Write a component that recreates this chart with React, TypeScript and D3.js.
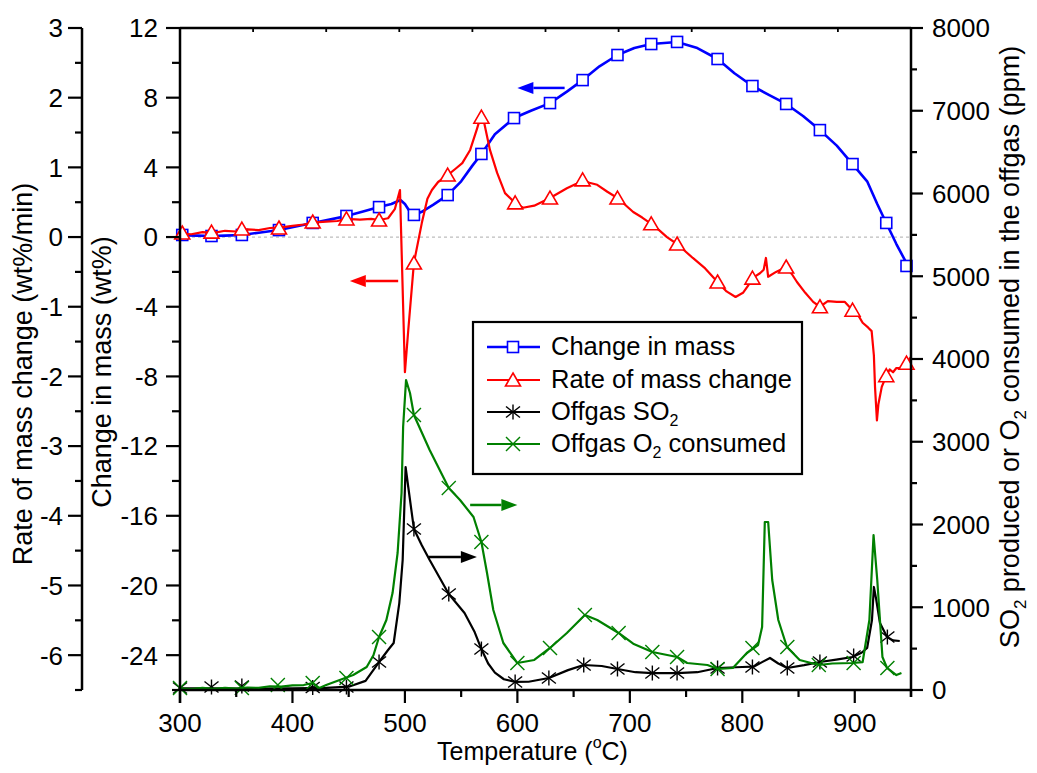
import React from 'react';
import * as d3 from 'd3';

// ---- axis ticks ----
const tempTicks = [300, 400, 500, 600, 700, 800, 900];
const tempMinor = [350, 450, 550, 650, 750, 850, 950];
const massTicks = [12, 8, 4, 0, -4, -8, -12, -16, -20, -24];
const massMinor = [10, 6, 2, -2, -6, -10, -14, -18, -22, -26];
const rateTicks = [3, 2, 1, 0, -1, -2, -3, -4, -5, -6];
const rateMinor = [2.5, 1.5, 0.5, -0.5, -1.5, -2.5, -3.5, -4.5, -5.5, -6.5];
const gasTicks = [0, 1000, 2000, 3000, 4000, 5000, 6000, 7000, 8000];
const gasMinor = [500, 1500, 2500, 3500, 4500, 5500, 6500, 7500];

// ---- change in mass (wt%) ----
const massLine: [number, number][] = [
  [300, 0.1], [315, 0.08], [328, 0.06], [340, 0.08], [355, 0.12], [370, 0.25], [388, 0.4],
  [403, 0.6], [418, 0.81], [433, 1.0], [448, 1.21], [462, 1.45], [477, 1.72], [488, 1.9],
  [496, 2.13], [500, 1.9], [504, 1.5], [508, 1.27], [515, 1.45], [525, 1.85], [538, 2.41],
  [550, 3.2], [560, 4.1], [568, 4.77], [580, 5.9], [597, 6.83], [612, 7.25], [629, 7.69],
  [644, 8.35], [658, 9.01], [673, 9.8], [689, 10.45], [704, 10.85], [719, 11.08], [742, 11.2],
  [760, 10.85], [778, 10.22], [793, 9.4], [809, 8.67], [824, 8.15], [839, 7.64], [854, 6.95],
  [869, 6.14], [884, 5.25], [898, 4.19], [911, 3.2], [920, 1.9], [928, 0.81], [937, -0.4],
  [946, -1.5],
];
const massMarks: [number, number][] = [
  [302, 0.12], [328, 0.06], [355, 0.12], [388, 0.4], [418, 0.81], [448, 1.21], [477, 1.72],
  [508, 1.27], [538, 2.41], [568, 4.77], [597, 6.83], [629, 7.69], [658, 9.01], [689, 10.45],
  [719, 11.08], [742, 11.2], [778, 10.22], [809, 8.67], [839, 7.64], [869, 6.14], [898, 4.19],
  [928, 0.81], [946, -1.66],
];

// ---- rate of mass change (wt%/min) ----
const rateLine: [number, number][] = [
  [300, 0.05], [310, 0.04], [320, 0.07], [330, 0.06], [340, 0.09], [350, 0.08], [360, 0.11],
  [370, 0.1], [380, 0.13], [390, 0.14], [400, 0.16], [410, 0.18], [420, 0.21], [430, 0.22],
  [440, 0.23], [448, 0.26], [460, 0.25], [470, 0.26], [477, 0.245], [485, 0.27], [491, 0.4],
  [495.6, 0.675], [500, -1.94], [503, -1.33], [508, -0.37], [515, 0.2], [520, 0.55], [524, 0.675],
  [529.5, 0.79], [538, 0.89], [545, 0.98], [551, 1.06], [558, 1.25], [564, 1.55], [568.5, 1.79],
  [575.6, 1.25], [582, 0.92], [589, 0.63], [598, 0.49], [605, 0.42], [615, 0.45], [629, 0.56],
  [644, 0.7], [652, 0.76], [658, 0.82], [664, 0.78], [671, 0.75], [680, 0.65], [689, 0.56],
  [696, 0.46], [703, 0.36], [711, 0.28], [719, 0.19], [726, 0.1], [733, 0.0], [742, -0.1],
  [749, -0.2], [756, -0.3], [767, -0.45], [778, -0.645], [786, -0.78], [794, -0.86],
  [800.6, -0.8], [805, -0.7], [809, -0.59], [815.7, -0.52], [819, -0.47], [821, -0.3],
  [823, -0.57], [830, -0.5], [839, -0.43], [844, -0.53], [848.6, -0.645], [856, -0.8],
  [863, -0.93], [869, -1.0], [876, -0.92], [884, -0.93], [891, -0.93], [898, -1.05],
  [903, -1.12], [907, -1.23], [912, -1.3], [915, -1.35], [917, -1.7], [918, -2.15],
  [919.7, -2.63], [921, -2.4], [924, -2.15], [928, -1.99], [931, -1.9], [934, -1.94],
  [937, -1.88], [940, -1.88], [943, -1.84], [946, -1.81], [950, -1.72],
];
const rateMarks: [number, number][] = [
  [302, 0.058], [328, 0.07], [355, 0.115], [388, 0.13], [418, 0.216], [448, 0.26], [477, 0.245],
  [508, -0.373], [538, 0.89], [568, 1.72], [598, 0.49], [629, 0.56], [658, 0.82], [689, 0.56],
  [719, 0.19], [742, -0.1], [778, -0.645], [809, -0.59], [839, -0.43], [869, -1.0], [898, -1.05],
  [928, -1.99], [946, -1.81],
];

// ---- offgas SO2 (ppm) ----
const so2Line: [number, number][] = [
  [300, 20], [330, 20], [360, 18], [400, 20], [430, 25], [450, 40], [465, 110], [477, 338],
  [485, 483], [490, 568], [495, 1051], [498, 1571], [500.6, 2695], [503, 2450], [508, 1946],
  [515, 1750], [522, 1571], [539, 1160], [553, 930], [562, 700], [568, 495], [574, 320],
  [580, 210], [588, 130], [598, 97], [610, 100], [628, 145], [645, 240], [659, 302], [675, 290],
  [689, 254], [705, 215], [720, 205], [742, 205], [760, 215], [778, 266], [800, 278], [810, 282],
  [818, 340], [824.6, 387], [832, 320], [840, 266], [855, 300], [869, 338], [885, 370],
  [898, 399], [906, 450], [911, 508], [915.3, 846], [917, 1245], [919, 1100], [922.4, 810],
  [928.7, 640], [934, 600], [940, 592],
];
const so2Marks: [number, number][] = [
  [300, 24], [328, 36], [355, 48], [418, 30], [448, 36], [477, 338], [508, 1946], [539, 1160],
  [568, 495], [598, 97], [628, 145], [659, 302], [689, 254], [720, 205], [742, 205], [778, 266],
  [809, 278], [840, 266], [869, 338], [899, 411], [929, 640],
];

// ---- offgas O2 consumed (ppm) ----
const o2Line: [number, number][] = [
  [300, 20], [310, 10], [320, 25], [330, 15], [340, 25], [350, 18], [360, 30], [370, 25],
  [380, 45], [390, 40], [400, 55], [410, 60], [418, 85], [424, 24], [430, 60], [442, 121],
  [454, 181], [466, 278], [472, 420], [477, 640], [483.5, 846], [489, 1172], [493.5, 1656],
  [497, 2381], [498.4, 3178], [501, 3746], [504.5, 3589], [508, 3323], [522, 2900], [539, 2441],
  [549, 2296], [561, 2091], [568, 1789], [573, 1414], [578.6, 967], [587.5, 568], [600, 326],
  [615, 363], [629, 508], [644, 689], [660, 906], [671, 846], [690, 689], [703, 560], [720, 459],
  [742, 399], [751, 326], [769, 302], [778.4, 254], [791.6, 266], [804, 447], [814, 544],
  [817.6, 761], [820, 2030], [823, 2030], [826.6, 1329], [832, 846], [839.7, 520], [851, 363],
  [868, 302], [880, 320], [898, 326], [907, 338], [913, 846], [916.7, 1873], [920, 1329],
  [924.6, 399], [928.7, 266], [937, 181], [941.5, 205],
];
const o2Marks: [number, number][] = [
  [300, 24], [355, 24], [387, 60], [418, 85], [448, 145], [477, 640], [508, 3323], [539, 2441],
  [568, 1789], [600, 326], [629, 508], [660, 906], [690, 689], [720, 459], [742, 399],
  [778, 254], [809, 508], [840, 520], [868, 302], [899, 326], [929, 266],
];

// ---- direction arrows: [fromT, toT, value] ----
const massArrow = [642, 600, 8.56];
const rateArrow = [494, 451, -0.63];
const so2Arrow = [521, 564, 1607];
const o2Arrow = [558, 600, 2236];

const FONT = '"Liberation Sans", Arial, Helvetica, sans-serif';
const BLUE = '#0000ff';
const RED = '#ff0000';
const BLACK = '#000000';
const GREEN = '#008000';

const W = 1037;
const H = 773;
const PL = 180;
const PR = 911;
const PT = 28;
const PB = 690;

const x = d3.scaleLinear().domain([300, 950]).range([PL, PR]);
const yMass = d3.scaleLinear().domain([-26, 12]).range([PB, PT]);
const yRate = d3.scaleLinear().domain([-6.5, 3]).range([PB, PT]);
const yGas = d3.scaleLinear().domain([0, 8000]).range([PB, PT]);

function Square({ cx, cy }: { cx: number; cy: number }) {
  return <rect x={cx - 5.5} y={cy - 5.5} width={11} height={11} fill="#fff" stroke={BLUE} strokeWidth={1.6} />;
}
function Triangle({ cx, cy }: { cx: number; cy: number }) {
  const pts = [[cx, cy - 7], [cx + 7.5, cy + 6], [cx - 7.5, cy + 6]].map((p) => p.join(',')).join(' ');
  return <polygon points={pts} fill="#fff" stroke={RED} strokeWidth={1.6} />;
}
function Asterisk({ cx, cy }: { cx: number; cy: number }) {
  return (
    <g stroke={BLACK} strokeWidth={1.4}>
      <line x1={cx} y1={cy - 7.5} x2={cx} y2={cy + 7.5} />
      <line x1={cx - 7} y1={cy - 5.5} x2={cx + 7} y2={cy + 5.5} />
      <line x1={cx - 7} y1={cy + 5.5} x2={cx + 7} y2={cy - 5.5} />
    </g>
  );
}
function Cross({ cx, cy }: { cx: number; cy: number }) {
  return (
    <g stroke={GREEN} strokeWidth={1.4}>
      <line x1={cx - 7} y1={cy - 7} x2={cx + 7} y2={cy + 7} />
      <line x1={cx - 7} y1={cy + 7} x2={cx + 7} y2={cy - 7} />
    </g>
  );
}

function Arrow({ x1, x2, y, color }: { x1: number; x2: number; y: number; color: string }) {
  const dir = Math.sign(x2 - x1);
  const headLen = 16;
  const baseX = x2 - dir * headLen;
  return (
    <g>
      <line x1={x1} y1={y} x2={baseX} y2={y} stroke={color} strokeWidth={2.5} />
      <polygon points={`${x2},${y} ${baseX},${y - 6} ${baseX},${y + 6}`} fill={color} />
    </g>
  );
}

export default function App() {
  const lineMass = d3.line<[number, number]>().x((d) => x(d[0])).y((d) => yMass(d[1]));
  const lineRate = d3.line<[number, number]>().x((d) => x(d[0])).y((d) => yRate(d[1]));
  const lineGas = d3.line<[number, number]>().x((d) => x(d[0])).y((d) => yGas(d[1]));

  const topDivs = d3.range(1, 10).map((k) => PL + (k * (PR - PL)) / 10);

  const tickFont = { fontFamily: FONT, fontSize: 26, fill: '#000' } as const;

  return (
    <svg width={W} height={H} style={{ position: 'absolute', left: 0, top: 0, background: '#fff' }}>
      <rect x={0} y={0} width={W} height={H} fill="#fff" />

      {/* zero reference line */}
      <line x1={PL} x2={PR} y1={yMass(0)} y2={yMass(0)} stroke="#bdbdbd" strokeWidth={1.3} strokeDasharray="3,3" />

      {/* offgas SO2 */}
      <path d={lineGas(so2Line) || ''} fill="none" stroke={BLACK} strokeWidth={2.2} strokeLinejoin="round" />
      {so2Marks.map((d, i) => <Asterisk key={'s' + i} cx={x(d[0])} cy={yGas(d[1])} />)}

      {/* offgas O2 consumed */}
      <path d={lineGas(o2Line) || ''} fill="none" stroke={GREEN} strokeWidth={2.2} strokeLinejoin="round" />
      {o2Marks.map((d, i) => <Cross key={'o' + i} cx={x(d[0])} cy={yGas(d[1])} />)}

      {/* change in mass */}
      <path d={lineMass(massLine) || ''} fill="none" stroke={BLUE} strokeWidth={2.6} strokeLinejoin="round" />
      {massMarks.map((d, i) => <Square key={'m' + i} cx={x(d[0])} cy={yMass(d[1])} />)}

      {/* rate of mass change */}
      <path d={lineRate(rateLine) || ''} fill="none" stroke={RED} strokeWidth={2.2} strokeLinejoin="round" />
      {rateMarks.map((d, i) => <Triangle key={'r' + i} cx={x(d[0])} cy={yRate(d[1])} />)}

      {/* axis direction arrows */}
      <Arrow x1={x(massArrow[0])} x2={x(massArrow[1])} y={yMass(massArrow[2])} color={BLUE} />
      <Arrow x1={x(rateArrow[0])} x2={x(rateArrow[1])} y={yRate(rateArrow[2])} color={RED} />
      <Arrow x1={x(so2Arrow[0])} x2={x(so2Arrow[1])} y={yGas(so2Arrow[2])} color={BLACK} />
      <Arrow x1={x(o2Arrow[0])} x2={x(o2Arrow[1])} y={yGas(o2Arrow[2])} color={GREEN} />

      {/* frame: top edge with small division ticks */}
      <line x1={PL} x2={PR} y1={PT} y2={PT} stroke="#000" strokeWidth={2.5} />
      {topDivs.map((t, i) => (
        <line key={'td' + i} x1={t} x2={t} y1={PT} y2={PT + 4} stroke="#000" strokeWidth={1.8} />
      ))}

      {/* bottom temperature axis */}
      <line x1={PL} x2={PR} y1={PB} y2={PB} stroke="#000" strokeWidth={2.5} />
      {tempTicks.map((t) => (
        <g key={'tt' + t}>
          <line x1={x(t)} x2={x(t)} y1={PB} y2={PB + 13} stroke="#000" strokeWidth={2.2} />
          <text x={x(t)} y={732} textAnchor="middle" {...tickFont}>{t}</text>
        </g>
      ))}
      {tempMinor.map((t) => (
        <line key={'tm' + t} x1={x(t)} x2={x(t)} y1={PB} y2={PB + 7} stroke="#000" strokeWidth={2.2} />
      ))}
      <text x={437} y={760} fontFamily={FONT} fontSize={25}>
        Temperature (<tspan dy={-12} fontSize={16}>o</tspan><tspan dy={12}>C)</tspan>
      </text>

      {/* inner left axis: change in mass */}
      <line x1={PL} x2={PL} y1={PT} y2={PB + 13} stroke="#000" strokeWidth={2.5} />
      {massTicks.map((v) => (
        <g key={'mt' + v}>
          <line x1={PL - 14} x2={PL} y1={yMass(v)} y2={yMass(v)} stroke="#000" strokeWidth={2.2} />
          <text x={158} y={yMass(v)} dy="0.36em" textAnchor="end" {...tickFont}>{v}</text>
        </g>
      ))}
      {massMinor.map((v) => (
        <line key={'mm' + v} x1={PL - 8} x2={PL} y1={yMass(v)} y2={yMass(v)} stroke="#000" strokeWidth={2.2} />
      ))}
      <text transform="translate(111,372) rotate(-90)" textAnchor="middle" fontFamily={FONT} fontSize={27}>
        Change in mass (wt%)
      </text>

      {/* outer left axis: rate of mass change */}
      <line x1={82} x2={82} y1={PT} y2={PB} stroke="#000" strokeWidth={2.5} />
      {rateTicks.map((v) => (
        <g key={'rt' + v}>
          <line x1={68} x2={82} y1={yRate(v)} y2={yRate(v)} stroke="#000" strokeWidth={2.2} />
          <text x={63} y={yRate(v)} dy="0.36em" textAnchor="end" {...tickFont}>{v}</text>
        </g>
      ))}
      {rateMinor.map((v) => (
        <line key={'rm' + v} x1={75} x2={82} y1={yRate(v)} y2={yRate(v)} stroke="#000" strokeWidth={2.2} />
      ))}
      <text transform="translate(32,374) rotate(-90)" textAnchor="middle" fontFamily={FONT} fontSize={27}>
        Rate of mass change (wt%/min)
      </text>

      {/* right axis: offgas concentration */}
      <line x1={PR} x2={PR} y1={PT} y2={PB + 7} stroke="#000" strokeWidth={2.5} />
      {gasTicks.map((v) => (
        <g key={'gt' + v}>
          <line x1={PR} x2={PR + 12} y1={yGas(v)} y2={yGas(v)} stroke="#000" strokeWidth={2.2} />
          <text x={932} y={yGas(v)} dy="0.36em" textAnchor="start" {...tickFont}>{v}</text>
        </g>
      ))}
      {gasMinor.map((v) => (
        <line key={'gm' + v} x1={PR} x2={PR + 6} y1={yGas(v)} y2={yGas(v)} stroke="#000" strokeWidth={2.2} />
      ))}
      <text transform="translate(1019,347) rotate(-90)" textAnchor="middle" fontFamily={FONT} fontSize={27}>
        SO<tspan dy={7} fontSize={17}>2</tspan><tspan dy={-7}> produced or O</tspan>
        <tspan dy={7} fontSize={17}>2</tspan><tspan dy={-7}> consumed in the offgas (ppm)</tspan>
      </text>

      {/* legend */}
      <g fontFamily={FONT} fontSize={25.5}>
        <rect x={473} y={322} width={329} height={152} fill="#fff" stroke="#000" strokeWidth={2.2} />
        <line x1={487} x2={540} y1={347} y2={347} stroke={BLUE} strokeWidth={2.6} />
        <Square cx={513} cy={347} />
        <text x={551} y={355}>Change in mass</text>
        <line x1={487} x2={540} y1={380} y2={380} stroke={RED} strokeWidth={2.2} />
        <Triangle cx={513} cy={380} />
        <text x={551} y={388}>Rate of mass change</text>
        <line x1={487} x2={540} y1={412} y2={412} stroke={BLACK} strokeWidth={2.2} />
        <Asterisk cx={513} cy={412} />
        <text x={551} y={420}>
          Offgas SO<tspan dy={6} fontSize={16}>2</tspan>
        </text>
        <line x1={487} x2={540} y1={444} y2={444} stroke={GREEN} strokeWidth={2.2} />
        <Cross cx={513} cy={444} />
        <text x={551} y={452}>
          Offgas O<tspan dy={6} fontSize={16}>2</tspan><tspan dy={-6}> consumed</tspan>
        </text>
      </g>
    </svg>
  );
}
